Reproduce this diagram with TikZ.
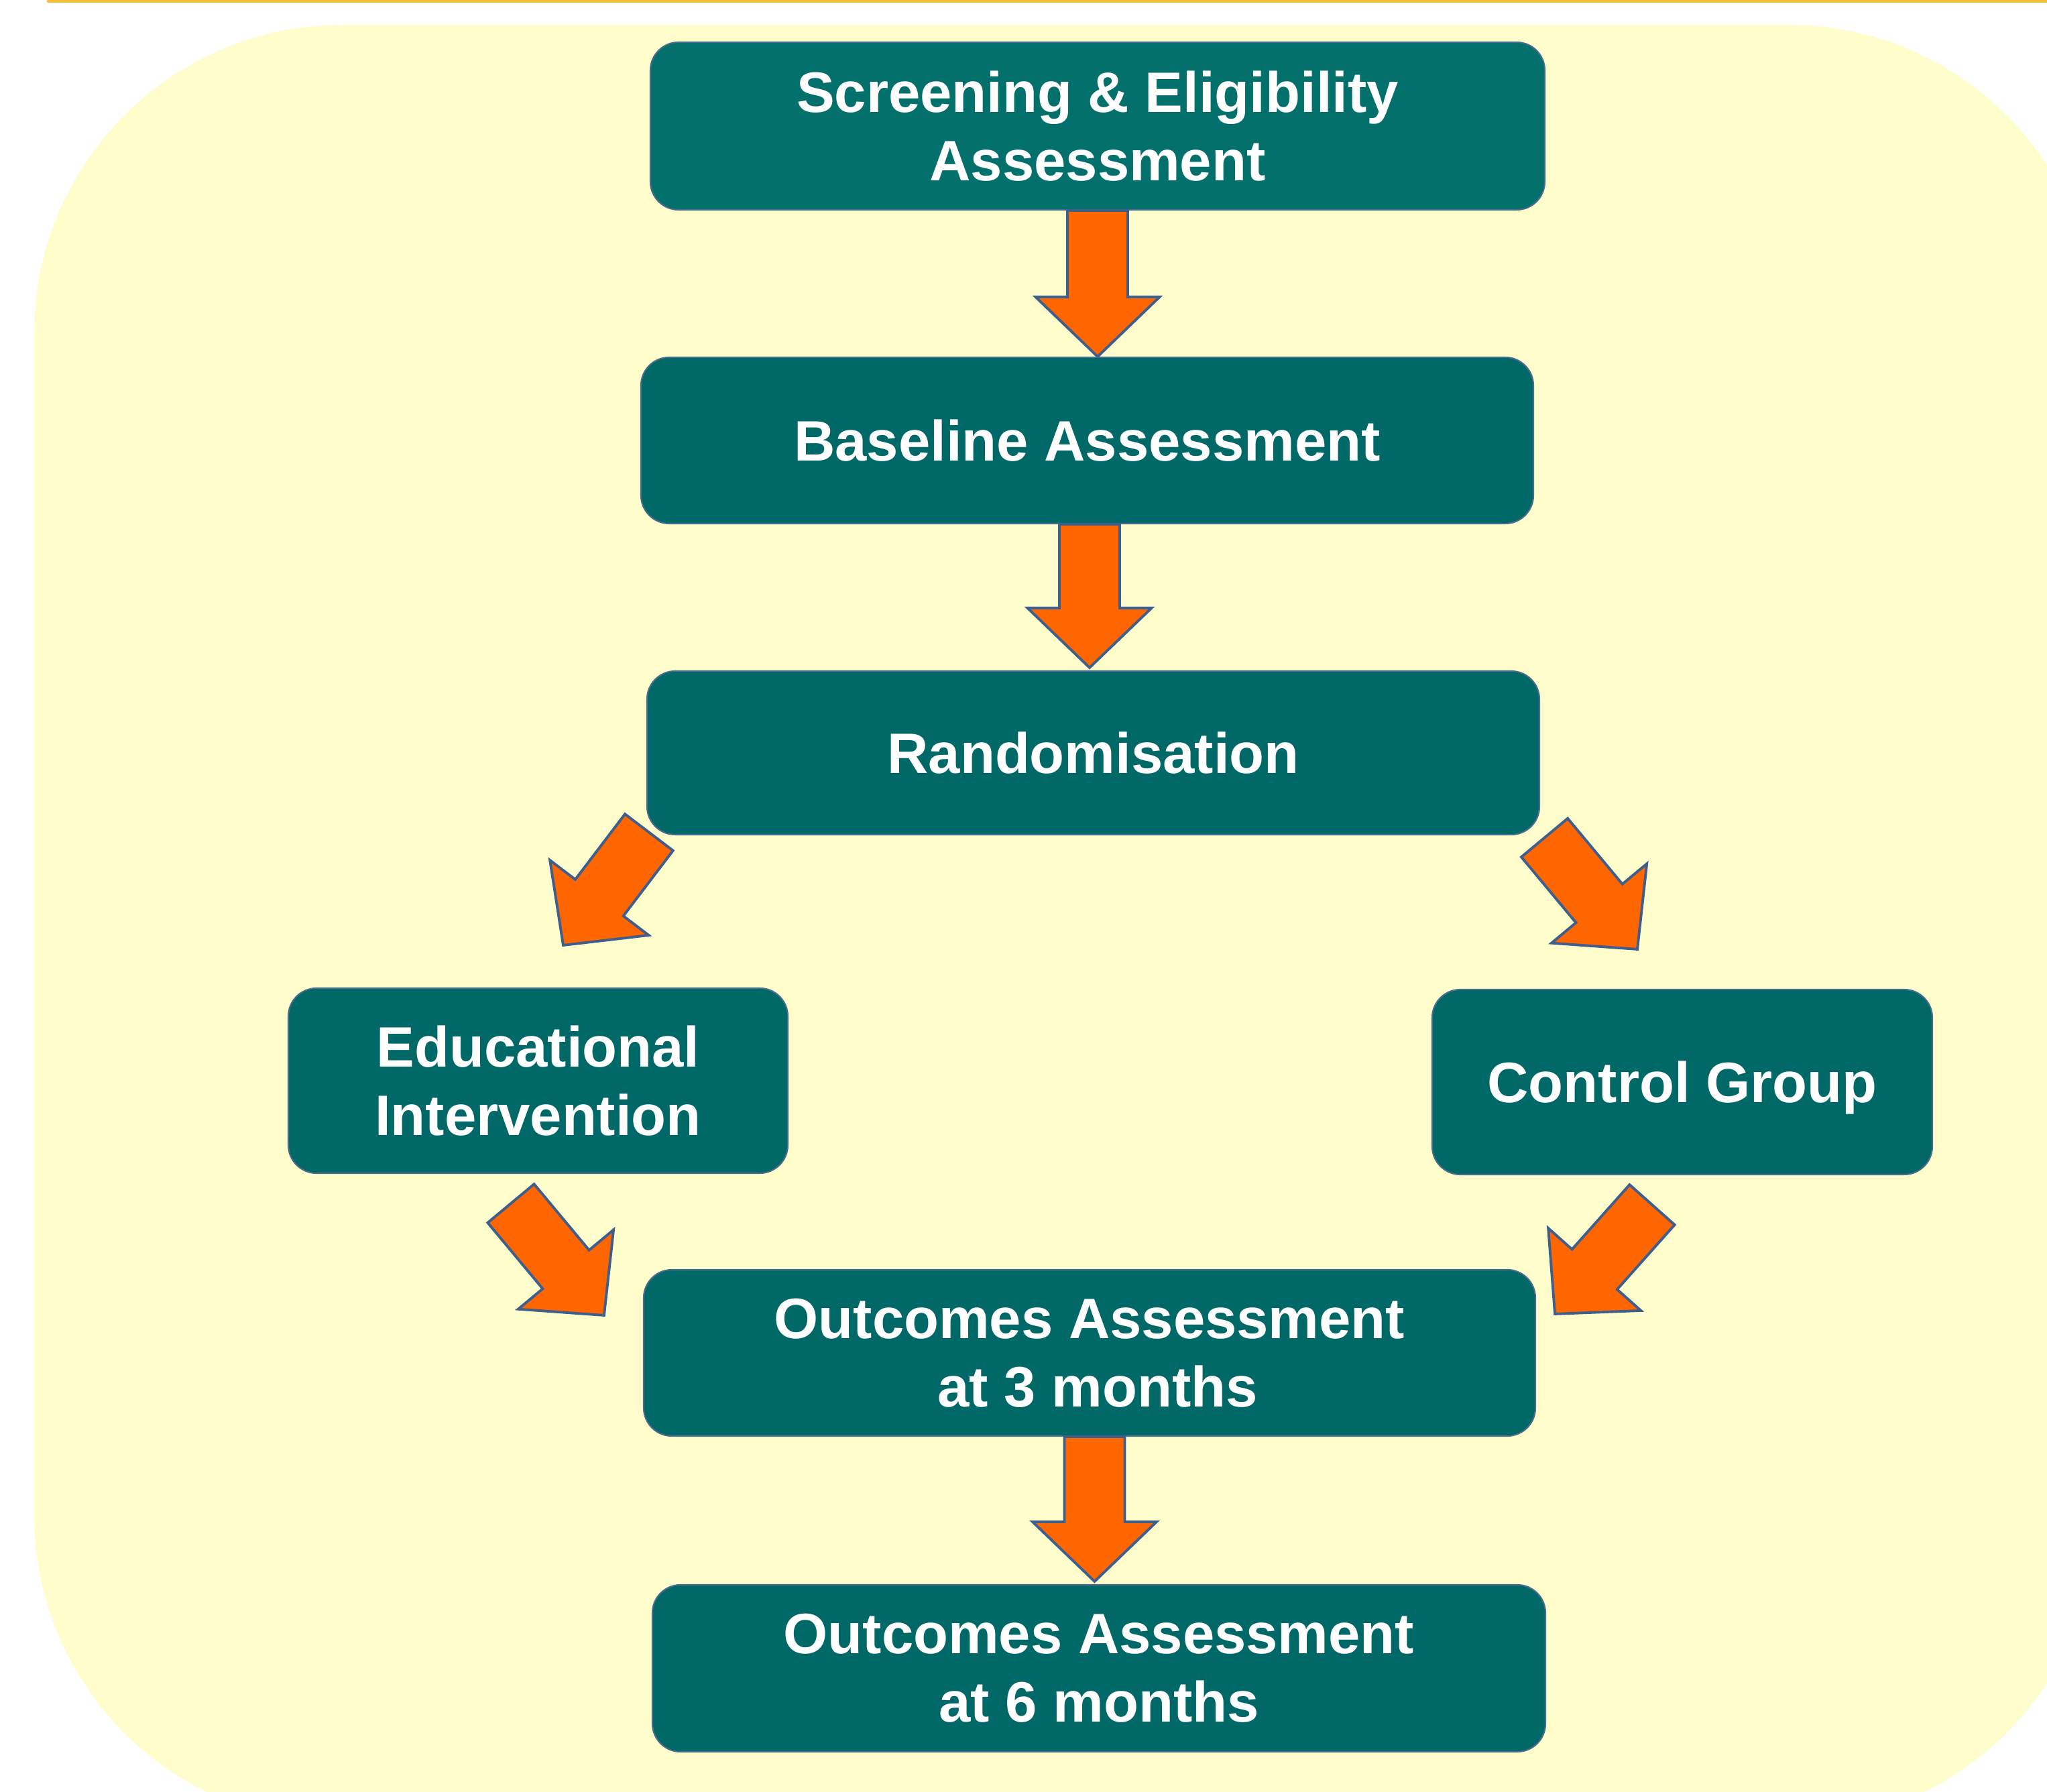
\documentclass[tikz,border=0pt]{standalone}
\usepackage{fontspec}
\setmainfont{Liberation Sans}
\usetikzlibrary{calc}
\definecolor{paleyellow}{RGB}{255,253,204}
\definecolor{rimorange}{RGB}{243,188,58}
\definecolor{tealbox}{RGB}{0,104,102}
\definecolor{tealtop}{RGB}{4,112,108}
\definecolor{boxrim}{RGB}{72,108,140}
\definecolor{arroworange}{RGB}{255,102,0}
\definecolor{arrowrim}{RGB}{62,94,140}
\newcommand{\bigtext}{\fontsize{24.2}{29}\selectfont\bfseries}
\newcommand{\blockarrow}[2]{%
  \coordinate (hb) at ($(#2)!0.89cm!(#1)$);
  \filldraw[blockarr]
   ($(#1)!0.45cm!90:(#2)$) -- ($(hb)!0.45cm!90:(#2)$) -- ($(hb)!0.925cm!90:(#2)$)
   -- (#2) -- ($(hb)!0.925cm!-90:(#2)$) -- ($(hb)!0.45cm!-90:(#2)$)
   -- ($(#1)!0.45cm!-90:(#2)$) -- cycle;}

\begin{document}
\begin{tikzpicture}[
  stagebox/.style={draw=boxrim, line width=0.6pt, fill=tealbox,
    rounded corners=0.42cm, text=white, align=center, font=\bigtext,
    inner sep=0pt},
  blockarr/.style={fill=arroworange, draw=arrowrim, line width=1.1pt}]
  \useasboundingbox (0,0) rectangle (30.53,26.72);
  \begin{scope}
    \clip (0,0) rectangle (30.53,26.72);
    \fill[paleyellow, rounded corners=4.6cm] (0.51,-0.48) rectangle (31.27,26.35);
    \draw[rimorange, line width=0.045cm, line cap=round] (0.72,26.70) -- (31.0,26.70);
  \end{scope}

  \node[stagebox, fill=tealtop, minimum width=13.34cm, minimum height=2.50cm]
    (screen) at (16.37,24.84) {Screening \& Eligibility\\Assessment};
  \node[stagebox, minimum width=13.31cm, minimum height=2.48cm]
    (base) at (16.215,20.15) {Baseline Assessment};
  \node[stagebox, minimum width=13.31cm, minimum height=2.44cm]
    (rand) at (16.305,15.49) {Randomisation};
  \node[stagebox, minimum width=7.45cm, minimum height=2.76cm]
    (edu) at (8.025,10.60) {Educational\\Intervention};
  \node[stagebox, minimum width=7.46cm, minimum height=2.76cm, text depth=0pt]
    (ctrl) at (25.09,10.58) {Control Group};
  \node[stagebox, minimum width=13.30cm, minimum height=2.48cm]
    (out3) at (16.25,6.54) {Outcomes Assessment\\\hspace*{0.24cm}at 3 months};
  \node[stagebox, minimum width=13.32cm, minimum height=2.49cm]
    (out6) at (16.39,1.835) {Outcomes Assessment\\at 6 months};

  \coordinate (a1s) at (screen.south);
  \coordinate (a1e) at (screen.south |- base.north);
  \coordinate (a2s) at ($(base.south)+(0.035,0)$);
  \coordinate (a2e) at ($(base.south |- rand.north)+(0.035,0.04)$);
  \coordinate (a3s) at ($(rand.south west)+(0.04,0.045)$);
  \coordinate (a3e) at ($(edu.north)+(0.375,0.63)$);
  \coordinate (a4s) at ($(rand.south east)+(0.065,-0.035)$);
  \coordinate (a4e) at ($(ctrl.north)+(-0.67,0.59)$);
  \coordinate (a5s) at ($(edu.south)+(-0.405,-0.44)$);
  \coordinate (a5e) at ($(out3.north west)+(-0.58,-0.69)$);
  \coordinate (a6s) at ($(ctrl.south)+(-0.45,-0.44)$);
  \coordinate (a6e) at ($(out3.north east)+(0.28,-0.67)$);
  \coordinate (a7s) at ($(out3.south)+(0.075,0)$);
  \coordinate (a7e) at ($(out3.south |- out6.north)+(0.075,0.04)$);

  \blockarrow{a1s}{a1e}
  \blockarrow{a2s}{a2e}
  \blockarrow{a3s}{a3e}
  \blockarrow{a4s}{a4e}
  \blockarrow{a5s}{a5e}
  \blockarrow{a6s}{a6e}
  \blockarrow{a7s}{a7e}
\end{tikzpicture}
\end{document}
